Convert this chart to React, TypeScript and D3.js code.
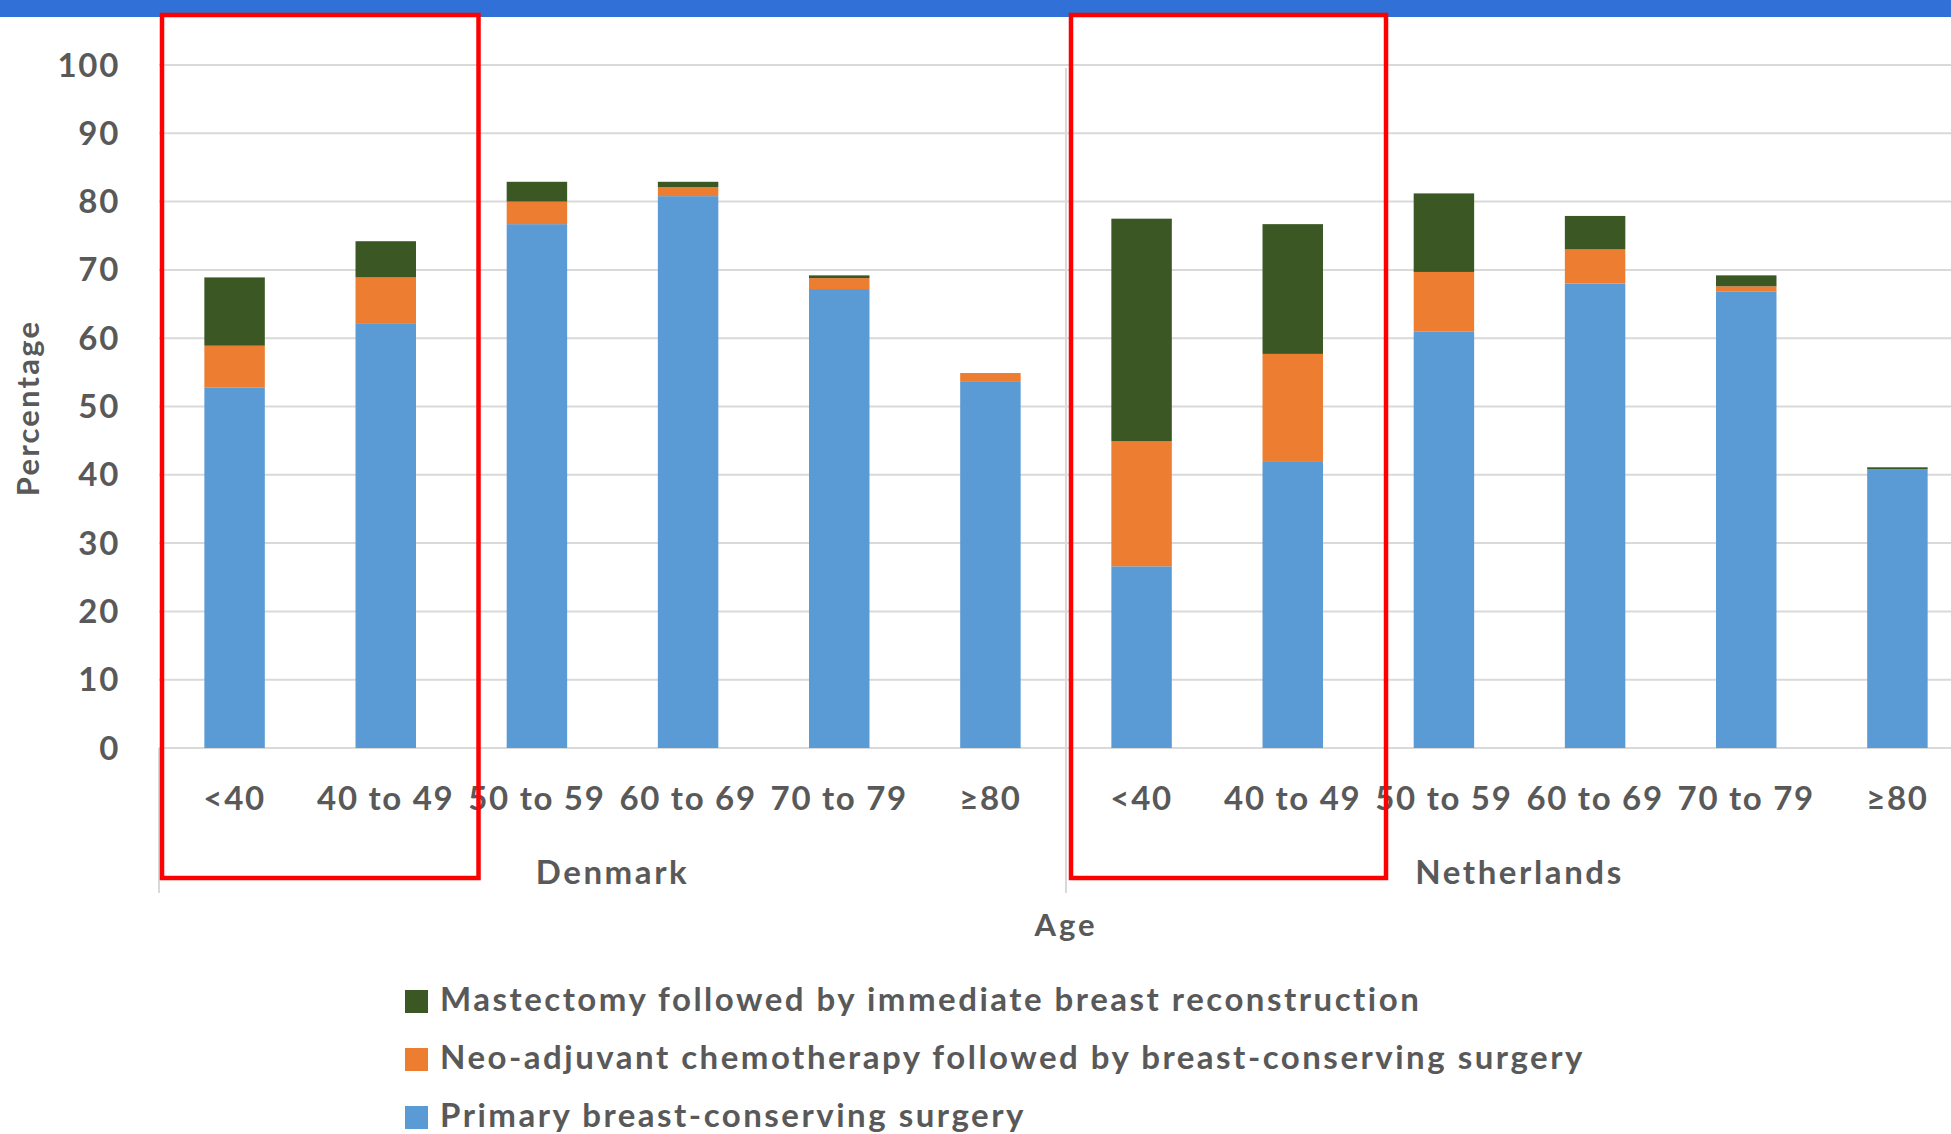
import React from "react";
import * as d3 from "d3";

const countries = ["Denmark", "Netherlands"];
const ageGroups = ["<40", "40 to 49", "50 to 59", "60 to 69", "70 to 79", "≥80"];
// values per country x age group (Denmark first, then Netherlands)
const primaryBCS = [52.8, 62.2, 76.7, 80.8, 67.2, 53.6, 26.6, 42.0, 61.0, 68.0, 66.8, 40.8];
const neoadjuvantBCS = [6.1, 6.7, 3.3, 1.3, 1.6, 1.3, 18.3, 15.7, 8.7, 5.0, 0.8, 0.0];
const mastectomyIBR = [10.0, 5.3, 2.9, 0.8, 0.4, 0.0, 32.6, 19.0, 11.5, 4.9, 1.6, 0.3];
const yTicks = [0, 10, 20, 30, 40, 50, 60, 70, 80, 90, 100];

const seriesKeys = ["primary", "neo", "mast"];
const seriesLabels: Record<string, string> = {
  mast: "Mastectomy followed by immediate breast reconstruction",
  neo: "Neo-adjuvant chemotherapy followed by breast-conserving surgery",
  primary: "Primary breast-conserving surgery",
};
const colors: Record<string, string> = {
  primary: "#5B9BD5",
  neo: "#ED7D31",
  mast: "#3A5724",
};

const W = 1951;
const H = 1134;
const FONT = "Lato, 'Open Sans', sans-serif";
const TXT = "#595959";

export default function App() {
  const rows = countries.flatMap((c, ci) =>
    ageGroups.map((a, ai) => {
      const i = ci * ageGroups.length + ai;
      return {
        key: `${c}|${a}`,
        country: c,
        age: a,
        primary: primaryBCS[i],
        neo: neoadjuvantBCS[i],
        mast: mastectomyIBR[i],
      };
    })
  );

  const plotLeft = 159;
  const groupWidth = 907;
  const x = d3
    .scaleBand<string>()
    .domain(rows.map((r) => r.key))
    .range([plotLeft, plotLeft + groupWidth * countries.length])
    .paddingInner(0.6)
    .paddingOuter(0.3);
  const y = d3.scaleLinear().domain([0, 100]).range([748, 65]);

  const stack = d3.stack<any>().keys(seriesKeys);
  const stacked = stack(rows as any);

  const groupX = d3
    .scaleBand<string>()
    .domain(countries)
    .range([plotLeft, plotLeft + groupWidth * countries.length]);

  return (
    <svg
      width={W}
      height={H}
      style={{ position: "absolute", left: 0, top: 0, background: "#fff" }}
      fontFamily={FONT}
    >
      <rect x={0} y={0} width={W} height={H} fill="#fff" />
      {/* header band */}
      <rect x={0} y={0} width={W} height={17} fill="#3170D6" />

      {/* gridlines */}
      {yTicks.map((t) => (
        <line
          key={t}
          x1={plotLeft}
          x2={W}
          y1={y(t)}
          y2={y(t)}
          stroke="#D9D9D9"
          strokeWidth={2}
        />
      ))}
      {/* y tick labels */}
      {yTicks.map((t) => (
        <text
          key={t}
          x={120}
          y={y(t)}
          dy="0.35em"
          textAnchor="end"
          fontSize={33}
          fontWeight={700}
          letterSpacing={1.7}
          fill={TXT}
        >
          {t}
        </text>
      ))}

      {/* group separators */}
      <line x1={plotLeft} x2={plotLeft} y1={748} y2={893} stroke="#D9D9D9" strokeWidth={2} />
      <line
        x1={groupX("Netherlands")!}
        x2={groupX("Netherlands")!}
        y1={68}
        y2={893}
        stroke="#D9D9D9"
        strokeWidth={2}
      />

      {/* bars */}
      {stacked.map((s) => (
        <g key={s.key} fill={colors[s.key]}>
          {s.map((d: any) => (
            <rect
              key={d.data.key}
              x={x(d.data.key)!}
              y={y(d[1])}
              width={x.bandwidth()}
              height={Math.max(0, y(d[0]) - y(d[1]))}
            />
          ))}
        </g>
      ))}

      {/* category labels */}
      {rows.map((r) => (
        <text
          key={r.key}
          x={x(r.key)! + x.bandwidth() / 2}
          y={810}
          textAnchor="middle"
          fontSize={33}
          fontWeight={700}
          letterSpacing={1.7}
          fill={TXT}
        >
          {r.age}
        </text>
      ))}
      {/* group labels */}
      {countries.map((c) => (
        <text
          key={c}
          x={groupX(c)! + groupX.bandwidth() / 2}
          y={884}
          textAnchor="middle"
          fontSize={33}
          fontWeight={700}
          letterSpacing={2.6}
          fill={TXT}
        >
          {c}
        </text>
      ))}

      {/* axis titles */}
      <text
        x={1066}
        y={936}
        textAnchor="middle"
        fontSize={31}
        fontWeight={700}
        letterSpacing={3}
        fill={TXT}
      >
        Age
      </text>
      <text
        transform={`translate(39, ${408}) rotate(-90)`}
        textAnchor="middle"
        fontSize={31}
        fontWeight={700}
        letterSpacing={2.2}
        fill={TXT}
      >
        Percentage
      </text>

      {/* legend */}
      {["mast", "neo", "primary"].map((k, i) => (
        <g key={k} transform={`translate(405, ${990 + i * 58})`}>
          <rect x={0} y={0} width={23} height={23} fill={colors[k]} />
          <text x={35} y={21} fontSize={33} fontWeight={700} letterSpacing={2.5} fill={TXT}>
            {seriesLabels[k]}
          </text>
        </g>
      ))}

      {/* red highlight boxes */}
      <rect x={162} y={15} width={316.5} height={863} fill="none" stroke="#FF0000" strokeWidth={4.5} />
      <rect x={1071} y={15} width={315} height={863} fill="none" stroke="#FF0000" strokeWidth={4.5} />
    </svg>
  );
}
